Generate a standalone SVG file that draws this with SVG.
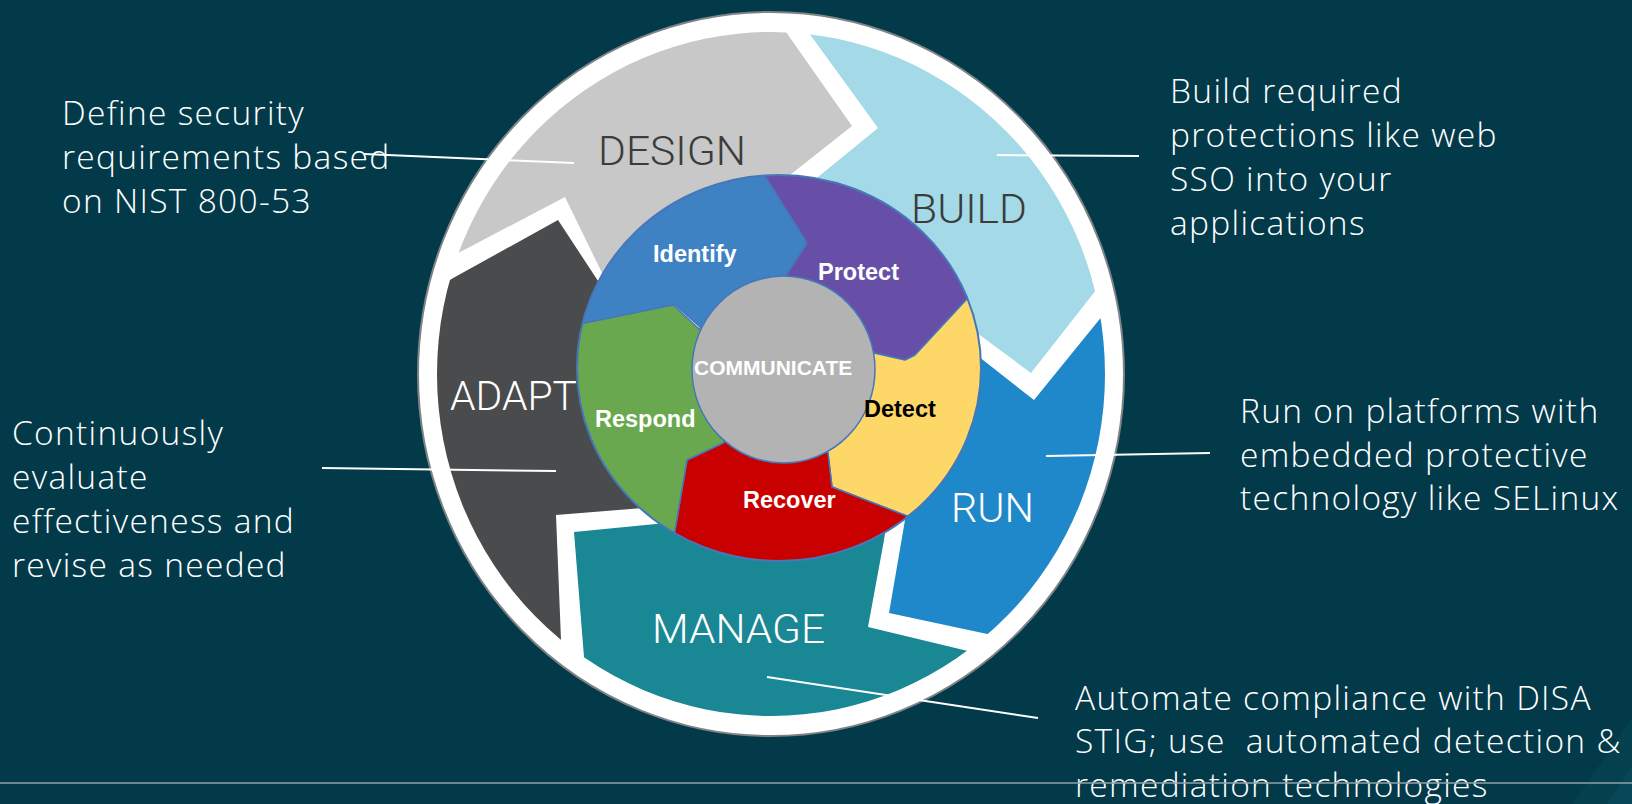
<svg xmlns="http://www.w3.org/2000/svg" width="1632" height="804" viewBox="0 0 1632 804">
<defs>
<style>
.desc{font-family:"Open Sans","Liberation Sans",sans-serif;font-weight:350;font-size:33.5px;letter-spacing:1.3px;fill:#ffffff}
.big{font-family:Roboto,"Liberation Sans",sans-serif;font-weight:300;font-size:40px}
.lbl{font-family:"Liberation Sans",Arial,sans-serif;font-weight:bold;font-size:23.5px;fill:#ffffff}
.wseg{stroke:#4677b8;stroke-width:1.5;stroke-linejoin:round}
.conn{stroke:#ffffff;stroke-width:2;fill:none}
</style>
<clipPath id="clipOuter"><ellipse cx="771" cy="374" rx="334" ry="342"/></clipPath>
<clipPath id="clipWheel"><ellipse cx="779" cy="368" rx="202" ry="193"/></clipPath>
</defs>
<rect x="0" y="0" width="1632" height="804" fill="#033a4a"/>
<polygon points="1573,804 1632,717 1632,804" fill="#05404f"/>
<polygon points="1607,804 1632,767 1632,804" fill="#074757"/>
<ellipse id="ring" cx="771" cy="374" rx="353" ry="362" fill="#ffffff" stroke="#7d8386" stroke-width="2"/>

<g id="design">
<polygon clip-path="url(#clipOuter)" fill="#c8c8c8" points="625,320 602,273 565,197 464,250 425,270 380,150 520,-10 760,-10 770,10 786,32 852,126 790,175 765,196"/>
<text class="big" x="598" y="165" fill="#3c3c3c" textLength="148" lengthAdjust="spacingAndGlyphs">DESIGN</text>
</g>
<g id="build">
<polygon clip-path="url(#clipOuter)" fill="#a4dae8" points="793,197 818,177 878,128 809,33 794,12 800,-10 1000,-10 1200,150 1120,260 1096,290 1031,373 977,333 950,313"/>
<text class="big" x="911" y="223" fill="#3c3c3c" textLength="116" lengthAdjust="spacingAndGlyphs">BUILD</text>
</g>
<g id="run">
<polygon clip-path="url(#clipOuter)" fill="#1f88ca" points="955,338 983,360 1034,400 1103,315 1122,292 1200,300 1200,600 1100,700 1020,641 992,635 889,613 905,520 910,490"/>
<text class="big" x="951" y="522" fill="#ffffff" textLength="83" lengthAdjust="spacingAndGlyphs">RUN</text>
</g>
<g id="manage">
<polygon clip-path="url(#clipOuter)" fill="#1a8794" points="890,500 884,540 868,627 972,652 1000,659 1050,720 780,780 560,740 586,687 584,657 574,532 666,523 700,500"/>
<text class="big" x="652" y="643" fill="#ffffff" textLength="173" lengthAdjust="spacingAndGlyphs">MANAGE</text>
</g>
<g id="adapt">
<polygon clip-path="url(#clipOuter)" fill="#4a4b4d" points="660,500 643,508 556,515 561,640 563,680 420,620 360,400 400,300 425,294 455,277 558,220 602,287 632,333"/>
<text class="big" x="450" y="410" fill="#ffffff" textLength="127" lengthAdjust="spacingAndGlyphs">ADAPT</text>
</g>

<g id="identify">
<polygon class="wseg" clip-path="url(#clipWheel)" fill="#3f82c4" points="780,370 700,327 675,305 585,323 555,329 520,200 650,120 750,120 750,152 765,176 807,243 785,277"/>
</g>
<g id="protect">
<polygon class="wseg" clip-path="url(#clipWheel)" fill="#674fa7" points="780,370 785,277 807,243 765,176 750,152 750,120 950,150 1010,260 984,279 966,300 915,355 905,360 874,353"/>
</g>
<g id="detect">
<polygon class="wseg" clip-path="url(#clipWheel)" fill="#fdd868" points="780,370 874,353 905,360 915,355 966,300 984,279 1010,260 1040,400 990,540 935,527 907,516 832,487 828,453"/>
</g>
<g id="recover">
<polygon class="wseg" clip-path="url(#clipWheel)" fill="#c80000" points="780,370 828,453 832,487 907,516 935,527 990,540 900,620 700,620 670,560 675,530 687,460 723,443"/>
</g>
<g id="respond">
<polygon class="wseg" clip-path="url(#clipWheel)" fill="#6aa84f" points="780,370 723,443 687,460 675,530 670,560 600,560 540,400 555,329 585,323 673,305 698,328"/>
</g>
<ellipse id="wheel-outline" cx="779" cy="368" rx="202" ry="193" fill="none" stroke="#4677b8" stroke-width="2"/>
<g id="communicate">
<ellipse cx="783.5" cy="369.5" rx="91.5" ry="93.5" fill="#b3b3b3" stroke="#4677b8" stroke-width="1.5"/>
<text class="lbl" x="694" y="375" style="font-size:21px">COMMUNICATE</text>
</g>
<g id="wheel-labels">
<text class="lbl" x="653" y="262">Identify</text>
<text class="lbl" x="818" y="280">Protect</text>
<text class="lbl" x="864" y="417" style="fill:#000000">Detect</text>
<text class="lbl" x="595" y="427">Respond</text>
<text class="lbl" x="743" y="508">Recover</text>
</g>

<g id="connectors">
<line class="conn" x1="364" y1="154" x2="574" y2="163"/>
<line class="conn" x1="997" y1="155" x2="1139" y2="156"/>
<line class="conn" x1="1046" y1="456" x2="1210" y2="453"/>
<line class="conn" x1="322" y1="468" x2="556" y2="471"/>
<line class="conn" x1="767" y1="677" x2="1038" y2="718"/>
</g>

<g id="desc-design">
<text class="desc" x="62" y="125">Define security</text>
<text class="desc" x="62" y="169">requirements based</text>
<text class="desc" x="62" y="213">on NIST 800-53</text>
</g>
<g id="desc-build">
<text class="desc" x="1170" y="103">Build required</text>
<text class="desc" x="1170" y="147">protections like web</text>
<text class="desc" x="1170" y="191">SSO into your</text>
<text class="desc" x="1170" y="235">applications</text>
</g>
<g id="desc-run">
<text class="desc" x="1240" y="423">Run on platforms with</text>
<text class="desc" x="1240" y="467">embedded protective</text>
<text class="desc" x="1240" y="510">technology like SELinux</text>
</g>
<g id="desc-adapt">
<text class="desc" x="12" y="445">Continuously</text>
<text class="desc" x="12" y="489">evaluate</text>
<text class="desc" x="12" y="533">effectiveness and</text>
<text class="desc" x="12" y="577">revise as needed</text>
</g>
<g id="desc-manage">
<text class="desc" x="1075" y="710">Automate compliance with DISA</text>
<text class="desc" x="1075" y="753" xml:space="preserve">STIG; use  automated detection &amp;</text>
<text class="desc" x="1075" y="797">remediation technologies</text>
</g>
<line id="footer-rule" x1="0" y1="783" x2="1632" y2="783" stroke="#8fa2aa" stroke-width="1.5"/>
</svg>
